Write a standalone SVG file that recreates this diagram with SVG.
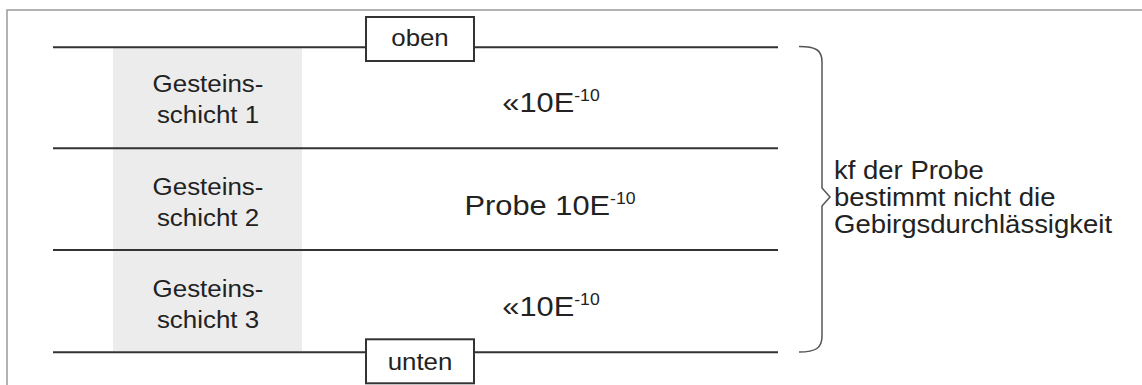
<svg xmlns="http://www.w3.org/2000/svg" width="1142" height="385" viewBox="0 0 1142 385">
<style>
  .frame{fill:none;stroke:#9a9a9a;stroke-width:1.5}
  .layerline{fill:none;stroke:#333;stroke-width:2}
  .band{fill:#ececec}
  .box{fill:#fff;stroke:#333;stroke-width:2}
  .brace{fill:none;stroke:#555;stroke-width:1.5}
  text{font-family:"Liberation Sans",Arial,Helvetica,sans-serif;fill:#222}
  .lbl{font-size:24px;text-anchor:middle}
  .box-lbl{font-size:23.5px;text-anchor:middle}
  .val{font-size:28px;text-anchor:middle}
  .sup{font-size:16px}
  .note{font-size:25px}
</style>
<rect width="1142" height="385" fill="#fff"/>
<path class="frame" d="M7,385 V10 H1142"/>
<rect class="band" x="113" y="48" width="189" height="303"/>
<g id="connectors">
  <path class="layerline" d="M53,47.3 H366 M474,47.3 H778"/>
  <path class="layerline" d="M53,148.3 H778"/>
  <path class="layerline" d="M53,250 H778"/>
  <path class="layerline" d="M53,352.3 H366 M474,352.3 H778"/>
  <path class="brace" d="M799,46.5 C816,46.5 822,50 822,62 V188 L830,197 L822,206 V336 C822,348 816,352 799,352"/>
</g>
<g id="oben">
  <rect class="box" x="366" y="17" width="108" height="44"/>
  <text class="box-lbl" transform="translate(420,46) scale(1.1,1)">oben</text>
</g>
<g id="unten">
  <rect class="box" x="366" y="339.3" width="108" height="44"/>
  <text class="box-lbl" transform="translate(420,370) scale(1.1,1)">unten</text>
</g>
<g id="schicht1">
  <text class="lbl" transform="translate(208,92) scale(1.08,1)">Gesteins-</text>
  <text class="lbl" transform="translate(208,123) scale(1.08,1)">schicht 1</text>
  <text class="val" transform="translate(551,112.3) scale(1.1,1)">«10E<tspan class="sup" dy="-11">-10</tspan></text>
</g>
<g id="schicht2">
  <text class="lbl" transform="translate(208,194.5) scale(1.08,1)">Gesteins-</text>
  <text class="lbl" transform="translate(208,225.5) scale(1.08,1)">schicht 2</text>
  <text class="val" transform="translate(550,215) scale(1.1,1)">Probe 10E<tspan class="sup" dy="-11">-10</tspan></text>
</g>
<g id="schicht3">
  <text class="lbl" transform="translate(208,296.5) scale(1.08,1)">Gesteins-</text>
  <text class="lbl" transform="translate(208,327.5) scale(1.08,1)">schicht 3</text>
  <text class="val" transform="translate(551,316.3) scale(1.1,1)">«10E<tspan class="sup" dy="-11">-10</tspan></text>
</g>
<g id="note">
  <text class="note" transform="translate(834,179) scale(1.1,1)">kf der Probe</text>
  <text class="note" transform="translate(834,205.5) scale(1.1,1)">bestimmt nicht die</text>
  <text class="note" transform="translate(834,232.5) scale(1.1,1)">Gebirgsdurchlässigkeit</text>
</g>
</svg>
